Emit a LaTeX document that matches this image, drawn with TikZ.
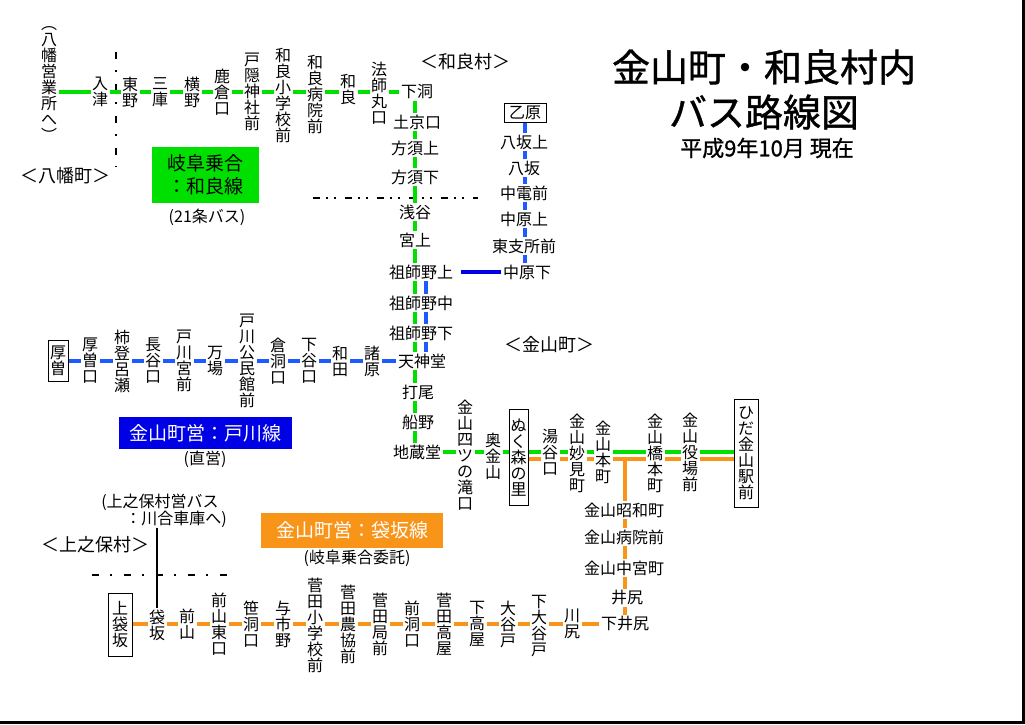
\documentclass[tikz,border=0pt]{standalone}
\usepackage{fontspec}
\setmainfont{Noto Sans CJK JP}
\newfontfamily\titlefont{Noto Sans CJK JP}[FakeBold=1]
\usepackage{tikz}
\usepackage{xcolor}
\usetikzlibrary{backgrounds}
\definecolor{wara-green}{RGB}{0,224,0}
\definecolor{togawa-blue}{RGB}{30,90,255}
\definecolor{kanayama-blue}{RGB}{0,0,230}
\definecolor{fukuro-orange}{RGB}{248,148,24}
\newcommand{\ekifont}{\fontsize{16}{16}\selectfont}
\newcommand{\chiikifont}{\fontsize{18}{18}\selectfont}
\newcommand{\rosenfont}{\fontsize{19}{23}\selectfont}
\tikzset{
    eki/.style = {fill=white, inner sep=1.5pt, align=center, font=\ekifont},
    eki-box/.style = {eki, draw=black, line width=1pt, inner xsep=3pt, inner ysep=7pt},
    chiiki/.style = {font=\chiikifont, inner sep=0pt},
    rosen-box/.style = {inner sep=0pt, align=center, font=\rosenfont},
    rosen/.style = {line width=4pt},
    sakai/.style = {line width=2pt, dash pattern=on 7pt off 11pt on 2pt off 12pt},
}

\begin{document}
\begin{tikzpicture}[x=1pt, y=-1pt]
\useasboundingbox (0,0) rectangle (1025,724);

% title
\node[font=\titlefont\fontsize{38}{45}\selectfont, align=center] (title) at (764,89.5) {金山町・和良村内\\バス路線図};
\node[font=\titlefont\fontsize{22}{22}\selectfont] (date) at (767,148) {平成9年10月 現在};

% areas
\node[chiiki] (hachiman-cho) at (65,176) {＜八幡町＞};
\node[chiiki] (wara-mura) at (465,62) {＜和良村＞};
\node[chiiki] (kanayama-cho) at (549,345) {＜金山町＞};
\node[chiiki] (kaminoho-mura) at (95,545) {＜上之保村＞};

% route names
\node[rosen-box, fill=wara-green, minimum width=107pt, minimum height=56pt] (wara-sen) at (205.5,175) {岐阜乗合\\：和良線};
\node[font=\ekifont] (wara-note) at (207,217) {(21条バス)};
\node[rosen-box, fill=kanayama-blue, text=white, minimum width=173pt, minimum height=32pt] (togawa-sen) at (205.5,433) {金山町営：戸川線};
\node[font=\ekifont] (togawa-note) at (205,459) {(直営)};
\node[rosen-box, fill=fukuro-orange, text=white, minimum width=182pt, minimum height=35pt] (fukuro-sen) at (352,530.5) {金山町営：袋坂線};
\node[font=\ekifont] (fukuro-note) at (357,558) {(岐阜乗合委託)};
\node[font=\fontsize{16}{17}\selectfont, align=left, inner sep=0pt] (kawai-note) at (164,510.5) {(上之保村営バス\\\hspace*{1.5em}：川合車庫へ)};

% wara line
\node[eki] (yahata) at (49,84) {︵\\八\\幡\\営\\業\\所\\へ\\︶};
\node[eki] (irizu) at (100,92) {入\\津};
\node[eki] (higashino) at (130,92) {東\\野};
\node[eki] (sanko) at (160,92) {三\\庫};
\node[eki] (yokono) at (192,92) {横\\野};
\node[eki] (shishikura) at (222,92) {鹿\\倉\\口};
\node[eki] (togakushi) at (252,92) {戸\\隠\\神\\社\\前};
\node[eki] (wara-gakko) at (283,95) {和\\良\\小\\学\\校\\前};
\node[eki] (wara-byoin) at (315,94) {和\\良\\病\\院\\前};
\node[eki] (wara) at (348,89) {和\\良};
\node[eki] (hoshimaru) at (379,93) {法\\師\\丸\\口};
\node[eki] (shimohora) at (417,92) {下洞};
\node[eki] (dokyo) at (417,122) {土京口};
\node[eki] (hosu-kami) at (415,148) {方須上};
\node[eki] (hosu-shimo) at (415,177) {方須下};
\node[eki] (asatani) at (415,212) {浅谷};
\node[eki] (miyakami) at (415,240) {宮上};
\node[eki] (soshino-kami) at (421,272) {祖師野上};
\node[eki] (soshino-naka) at (421,303) {祖師野中};
\node[eki] (soshino-shimo) at (421,333) {祖師野下};
\node[eki] (tenjindo) at (422,361) {天神堂};
\node[eki] (uchio) at (418,392) {打尾};
\node[eki] (funano) at (418,422) {船野};
\node[eki] (jizodo) at (417,452) {地蔵堂};
\coordinate (trunk) at (415,0);
\coordinate (trunk-blue) at (426,0);

% otsubara branch
\node[eki-box, inner xsep=5pt, inner ysep=2.5pt] (otsubara) at (525,113) {乙原};
\node[eki] (yasaka-kami) at (524,142) {八坂上};
\node[eki] (yasaka) at (524,168) {八坂};
\node[eki] (chuden) at (524,193) {中電前};
\node[eki] (nakahara-kami) at (524,219) {中原上};
\node[eki] (higashi-shisho) at (524,246) {東支所前};
\node[eki] (nakahara-shimo) at (527,272) {中原下};

% togawa line
\node[eki-box, inner xsep=2pt, inner ysep=6pt] (atsuso) at (58,361) {厚\\曽};
\node[eki] (atsuso-guchi) at (90,361) {厚\\曽\\口};
\node[eki] (kakitorose) at (122,361) {柿\\登\\呂\\瀬};
\node[eki] (nagatani) at (153,361) {長\\谷\\口};
\node[eki] (togawa-miya) at (184,361) {戸\\川\\宮\\前};
\node[eki] (manba) at (215,361) {万\\場};
\node[eki] (kominkan) at (247,361) {戸\\川\\公\\民\\館\\前};
\node[eki] (kurahora) at (278,361) {倉\\洞\\口};
\node[eki] (shimotani) at (309,361) {下\\谷\\口};
\node[eki] (wada) at (340,361) {和\\田};
\node[eki] (morohara) at (372,361) {諸\\原};

% kanayama
\node[eki] (yotsunotaki) at (465,455) {金\\山\\四\\ツ\\の\\滝\\口};
\node[eki] (okukanayama) at (493,456) {奥\\金\\山};
\node[eki-box, inner xsep=1.5pt, inner ysep=9.5pt] (nukumori) at (518.5,457.5) {ぬ\\く\\森\\の\\里};
\node[eki] (yutani) at (550,452) {湯\\谷\\口};
\node[eki] (myoken) at (577,453) {金\\山\\妙\\見\\町};
\node[eki] (honmachi) at (603,452) {金\\山\\本\\町};
\node[eki] (hashimoto) at (655,453) {金\\山\\橋\\本\\町};
\node[eki] (yakuba) at (690,452) {金\\山\\役\\場\\前};
\node[eki-box, inner xsep=4pt, inner ysep=7.5pt] (ekimae) at (746,453.5) {ひ\\だ\\金\\山\\駅\\前};

% fukurozaka line
\coordinate (bunki) at (625,459);
\node[eki] (showa) at (624,510) {金山昭和町};
\node[eki] (kanayama-byoin) at (624,537) {金山病院前};
\node[eki] (nakamiya) at (624,568) {金山中宮町};
\node[eki] (ijiri) at (627,598) {井尻};
\node[eki] (shimo-ijiri) at (625,624) {下井尻};
\node[eki-box, inner xsep=4pt, inner ysep=8pt] (kami-fukuro) at (120,625) {上\\袋\\坂};
\node[eki] (fukurozaka) at (157,625) {袋\\坂};
\node[eki] (maeyama) at (187,624) {前\\山};
\node[eki] (maeyama-higashi) at (219,624) {前\\山\\東\\口};
\node[eki] (sasahora) at (251,624) {笹\\洞\\口};
\node[eki] (yoichino) at (283,624) {与\\市\\野};
\node[eki] (sugeta-gakko) at (315,625) {菅\\田\\小\\学\\校\\前};
\node[eki] (sugeta-nokyo) at (348,624) {菅\\田\\農\\協\\前};
\node[eki] (sugeta-kyoku) at (380,624) {菅\\田\\局\\前};
\node[eki] (maehora) at (412,624) {前\\洞\\口};
\node[eki] (sugeta-takaya) at (444,624) {菅\\田\\高\\屋};
\node[eki] (shimo-takaya) at (477,624) {下\\高\\屋};
\node[eki] (otanido) at (508,624) {大\\谷\\戸};
\node[eki] (shimo-otanido) at (539,626) {下\\大\\谷\\戸};
\node[eki] (kawajiri) at (572,624) {川\\尻};

\begin{scope}[on background layer]
% boundaries
\draw[sakai] (116,52) -- (116,167);
\draw[sakai, dash pattern=on 7pt off 6pt on 2pt off 6pt on 2pt off 9pt] (313,198) -- (478,198);
\draw[sakai] (92,575) -- (230,575);
% lines
\draw[rosen, wara-green] (yahata.east |- shimohora) -- (shimohora.west);
\draw[rosen, wara-green] (shimohora.south -| trunk) -- (jizodo.north -| trunk);
\draw[rosen, wara-green] (jizodo.east) -- (jizodo.east -| ekimae.west);
\draw[rosen, togawa-blue] (atsuso.east) -- (tenjindo.west);
\draw[rosen, togawa-blue] (soshino-kami.south -| trunk-blue) -- (tenjindo.north -| trunk-blue);
\draw[rosen, togawa-blue] (otsubara.south) -- (otsubara.south |- nakahara-shimo.north);
\draw[rosen, kanayama-blue] ([xshift=6pt]soshino-kami.east) -- (nakahara-shimo.west);
\draw[rosen, fukuro-orange] (nukumori.east |- bunki) -- (ekimae.west |- bunki);
\draw[rosen, fukuro-orange] (bunki) -- (shimo-ijiri.north);
\draw[rosen, fukuro-orange] (kami-fukuro.east |- shimo-ijiri) -- (shimo-ijiri.west);
\draw[line width=2pt] (fukurozaka |- kawai-note.south) -- (fukurozaka.north);
\end{scope}

% frame
\draw[line width=2.5pt] (0,722.7) -- (1023.7,722.7) -- (1023.7,0);
\end{tikzpicture}
\end{document}
